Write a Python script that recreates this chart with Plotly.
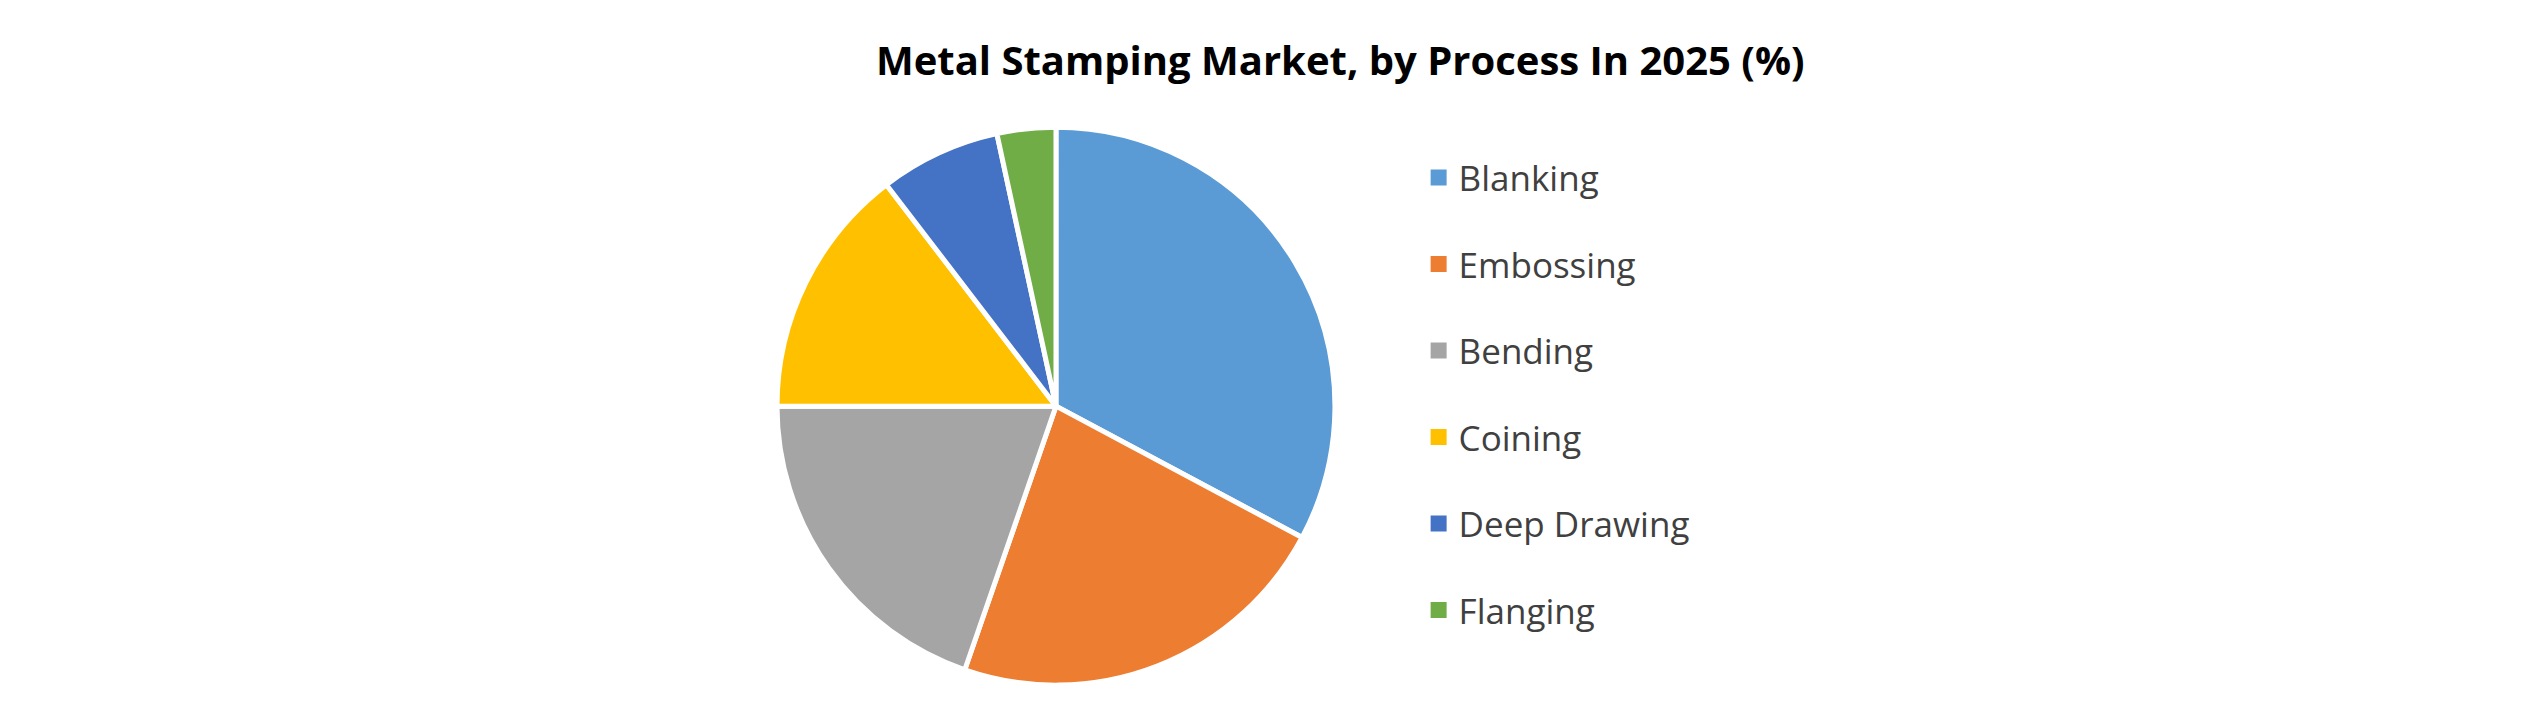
import plotly.graph_objects as go

labels = ["Blanking", "Embossing", "Bending", "Coining", "Deep Drawing", "Flanging"]
values = [32.8, 22.5, 19.7, 14.6, 7.0, 3.4]
colors = ["#5B9BD5", "#ED7D31", "#A5A5A5", "#FFC000", "#4472C4", "#70AD47"]

fig = go.Figure()
fig.add_trace(go.Pie(
    labels=labels, values=values, sort=False, direction="clockwise", rotation=0,
    marker=dict(colors=colors, line=dict(color="white", width=5)),
    textinfo="none", hoverinfo="label+percent", showlegend=False,
    domain=dict(x=[0.3042, 0.5249], y=[0.034, 0.830]),
))

# legend entries as dummy traces so the gap between items can be set
for lab, col in zip(labels, colors):
    fig.add_trace(go.Scatter(
        x=[None], y=[None], mode="markers", name=lab, legendgroup=lab,
        marker=dict(symbol="square", size=18, color=col),
    ))

fig.update_layout(
    width=2528, height=701,
    paper_bgcolor="white", plot_bgcolor="white",
    margin=dict(l=0, r=0, t=0, b=0),
    title=dict(text="<b>Metal Stamping Market, by Process In 2025 (%)</b>",
               x=0.527, xanchor="center", y=0.925, yanchor="middle",
               font=dict(family="Open Sans", size=40, color="black")),
    legend=dict(x=0.558, y=0.8, xanchor="left", yanchor="top",
                font=dict(family="Open Sans", size=35, color="#404040"),
                tracegroupgap=38, itemwidth=30),
    xaxis=dict(visible=False), yaxis=dict(visible=False),
)

fig.write_html("out.html")
